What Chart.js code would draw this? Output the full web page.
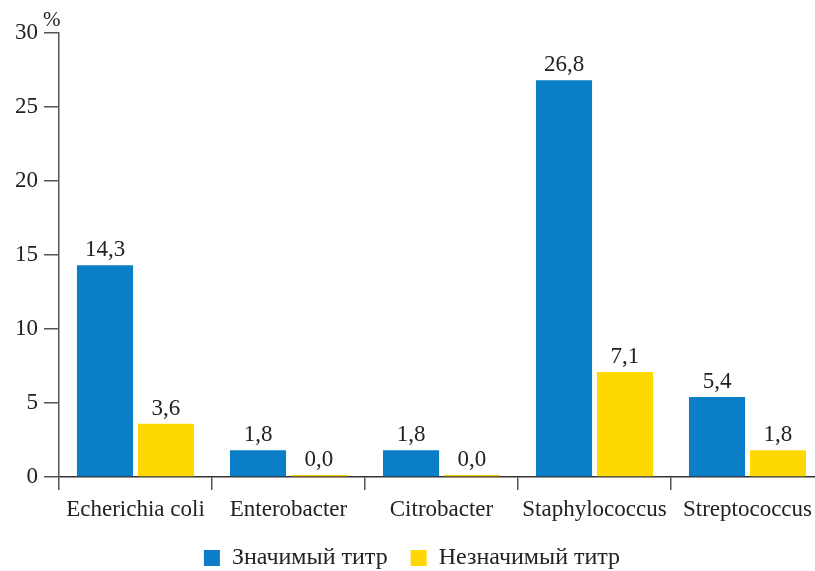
<!DOCTYPE html>
<html>
<head>
<meta charset="utf-8">
<script src="https://cdn.jsdelivr.net/npm/chart.js@4/dist/chart.umd.min.js"></script>
<style>
  html, body { margin: 0; padding: 0; background: #fff; overflow: hidden; }
  #wrap { width: 832px; height: 571px; }
</style>
</head>
<body>
<div id="wrap"><canvas id="chart" width="832" height="571"></canvas></div>
<script>
const categories = ['Echerichia coli', 'Enterobacter', 'Citrobacter', 'Staphylococcus', 'Streptococcus'];
const significant = [14.3, 1.8, 1.8, 26.8, 5.4];
const insignificant = [3.6, 0.0, 0.0, 7.1, 1.8];
const seriesNames = ['Значимый титр', 'Незначимый титр'];
const yTicks = [0, 5, 10, 15, 20, 25, 30];

const FONT = "'Liberation Serif', 'DejaVu Serif', serif";
const AXIS = '#555555';

// value labels above bars, decimal comma
const valueLabels = {
  id: 'valueLabels',
  afterDatasetsDraw(chart) {
    const ctx = chart.ctx;
    ctx.save();
    ctx.font = '23px ' + FONT;
    ctx.fillStyle = '#222';
    ctx.textAlign = 'center';
    ctx.textBaseline = 'alphabetic';
    chart.data.datasets.forEach((ds, i) => {
      chart.getDatasetMeta(i).data.forEach((bar, j) => {
        const txt = ds.data[j].toFixed(1).replace('.', ',');
        ctx.fillText(txt, bar.x, bar.y - 9);
      });
    });
    ctx.restore();
  }
};

// "%" unit next to the top of the y axis
const unitLabel = {
  id: 'unitLabel',
  afterDraw(chart) {
    const ctx = chart.ctx;
    const y = chart.scales.y;
    ctx.save();
    ctx.font = '21px ' + FONT;
    ctx.fillStyle = '#222';
    ctx.textAlign = 'left';
    ctx.textBaseline = 'alphabetic';
    ctx.fillText('%', y.right - 16, y.top - 7);
    ctx.restore();
  }
};

new Chart(document.getElementById('chart'), {
  type: 'bar',
  data: {
    labels: categories,
    datasets: [
      { label: seriesNames[0], data: significant, backgroundColor: '#0a7ec6' },
      { label: seriesNames[1], data: insignificant, backgroundColor: '#ffd800', minBarLength: 2 }
    ]
  },
  options: {
    responsive: false,
    animation: false,
    categoryPercentage: 0.797,
    barPercentage: 0.92,
    layout: { padding: { top: 33, right: 8, left: 0, bottom: -9 } },
    plugins: {
      legend: {
        position: 'bottom',
        labels: {
          font: { family: FONT, size: 24, lineHeight: 1 },
          color: '#222',
          boxWidth: 16,
          boxHeight: 16,
          padding: 23
        }
      },
      tooltip: { enabled: false }
    },
    scales: {
      x: {
        afterFit(scale) { scale.height = 46; },
        grid: {
          offset: true,
          drawOnChartArea: false,
          drawTicks: true,
          tickLength: 13,
          color: AXIS,
          lineWidth: 1.5
        },
        border: { color: '#333', width: 1.5 },
        ticks: {
          font: { family: FONT, size: 23 },
          color: '#222',
          padding: 6,
          maxRotation: 0,
          autoSkip: false
        }
      },
      y: {
        min: 0,
        max: 30,
        afterBuildTicks(scale) {
          scale.ticks = yTicks.map(v => ({ value: v }));
        },
        afterFit(scale) { scale.width = 59; },
        grid: {
          drawOnChartArea: false,
          drawTicks: true,
          tickLength: 15,
          color: AXIS,
          lineWidth: 1.5
        },
        border: { color: AXIS, width: 1.5 },
        ticks: {
          font: { family: FONT, size: 23 },
          color: '#222',
          padding: 6
        }
      }
    }
  },
  plugins: [valueLabels, unitLabel]
});
</script>
</body>
</html>
